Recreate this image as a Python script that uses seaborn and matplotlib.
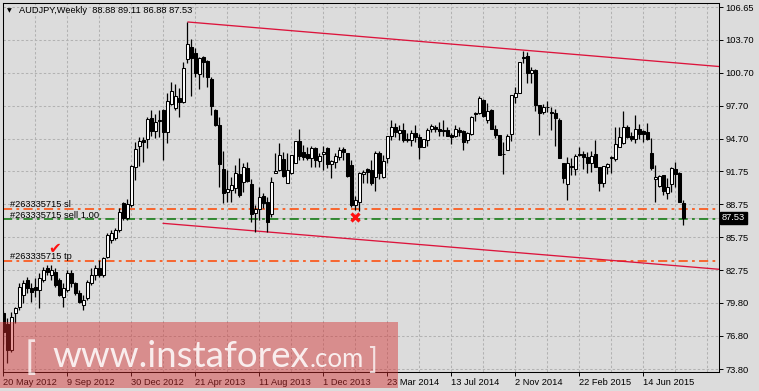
import numpy as np
import pandas as pd
import matplotlib
matplotlib.use("Agg")
import matplotlib.pyplot as plt
import matplotlib.transforms as mtransforms
from matplotlib.patches import Rectangle
import seaborn as sns

# ---------------- data (weekly AUDJPY candles) ----------------
opens = [
    78.9, 77.9, 75.5, 78.85, 79.45, 80.52, 81.88, 81.12, 81.27, 80.97,
    81.88, 82.94, 82.33, 82.63, 81.88, 80.36, 80.97, 82.48, 81.57, 80.67,
    79.61, 80.21, 81.57, 82.33, 82.94, 82.33, 83.99, 85.5, 85.66, 86.41,
    88.83, 87.5, 88.68, 92.16, 94.07, 94.58, 94.67, 96.55, 95.4, 96.3,
    97.3, 95.34, 97.82, 97.45, 98.42, 98.06, 101.9, 102.99, 102.45, 100.54,
    102.11, 101.75, 100.09, 97.3, 95.94, 91.95, 89.89, 90.04, 90.26, 91.5,
    90.8, 92.07, 90.59, 87.99, 88.29, 89.5, 88.93, 87.84, 91.56, 91.86,
    92.83, 90.71, 91.56, 92.52, 94.49, 93.46, 93.31, 92.98, 93.82, 92.65,
    93.34, 93.82, 92.4, 92.62, 93.01, 93.76, 93.43, 92.31, 88.68, 88.99,
    91.47, 91.92, 91.86, 91.25, 93.4, 91.25, 92.91, 94.94, 95.73, 95.24,
    95.49, 94.7, 94.58, 95.24, 94.82, 93.97, 94.58, 95.55, 95.73, 95.58,
    95.49, 95.49, 95.0, 94.94, 95.49, 95.39, 94.58, 95.12, 97.06, 97.0,
    98.21, 96.39, 97.3, 95.58, 95.03, 93.31, 93.67, 95.09, 98.45, 98.87,
    102.14, 102.2, 100.69, 100.93, 97.75, 97.15, 97.6, 97.15, 97.06, 96.39,
    92.46, 90.56, 92.1, 91.92, 93.31, 93.31, 93.07, 92.46, 93.31, 92.1,
    90.65, 92.1, 92.91, 92.82, 93.97, 94.28, 95.79, 94.94, 94.64, 95.55,
    95.4, 95.34, 93.37, 91.01, 90.41, 91.4, 89.8, 90.59, 91.92, 91.61,
    88.88,
]
highs = [
    79.1, 78.4, 79.0, 79.45, 81.57, 81.88, 82.18, 81.57, 82.03, 82.48,
    83.09, 83.24, 83.24, 82.94, 82.03, 81.57, 82.78, 82.78, 81.73, 80.97,
    80.52, 81.88, 82.94, 83.24, 83.69, 83.99, 86.11, 86.41, 86.57, 88.38,
    88.98, 89.2, 92.3, 94.43, 94.88, 94.88, 96.7, 97.3, 96.91, 97.3,
    97.4, 98.82, 99.87, 99.63, 99.27, 101.69, 105.26, 103.74, 102.9, 102.14,
    102.2, 101.84, 100.33, 97.36, 96.7, 93.6, 91.86, 91.25, 92.31, 92.92,
    92.52, 92.61, 91.01, 88.68, 90.29, 89.74, 89.44, 91.25, 93.43, 94.28,
    93.52, 93.37, 93.22, 94.49, 95.58, 94.13, 93.98, 94.04, 93.98, 93.37,
    94.0, 93.98, 92.77, 93.37, 93.98, 93.98, 93.43, 92.77, 89.5, 91.71,
    91.86, 92.01, 92.77, 93.6, 93.6, 93.22, 94.94, 96.39, 96.09, 95.94,
    96.09, 95.18, 95.49, 95.94, 95.12, 94.7, 95.64, 96.03, 95.94, 96.24,
    96.39, 95.79, 95.18, 95.94, 95.79, 95.49, 95.33, 96.76, 97.15, 98.57,
    98.27, 97.91, 97.36, 95.94, 95.03, 94.43, 95.12, 98.66, 99.36, 101.69,
    102.68, 102.59, 101.17, 100.99, 97.75, 97.85, 98.15, 97.6, 97.36, 96.54,
    92.52, 93.07, 92.91, 93.31, 93.91, 93.61, 93.52, 93.61, 94.58, 92.1,
    92.22, 92.46, 93.13, 95.79, 95.79, 97.24, 95.94, 95.3, 96.85, 96.03,
    95.49, 96.09, 94.73, 92.31, 91.4, 91.4, 91.1, 92.16, 92.61, 91.7,
    89.11,
]
lows = [
    76.1, 74.3, 75.3, 77.95, 79.15, 79.76, 80.67, 79.91, 80.36, 79.3,
    81.73, 82.33, 81.88, 81.27, 80.45, 79.46, 80.82, 81.27, 80.52, 79.76,
    79.15, 80.06, 81.42, 81.88, 82.18, 82.18, 83.84, 85.2, 85.5, 86.26,
    87.32, 87.35, 88.5, 90.95, 92.25, 92.61, 93.88, 94.97, 94.79, 94.88,
    92.77, 94.28, 97.75, 97.3, 96.7, 97.9, 101.54, 98.6, 100.33, 99.21,
    100.33, 99.42, 96.85, 95.85, 90.35, 88.83, 88.99, 88.99, 89.74, 89.44,
    89.89, 90.8, 87.17, 86.26, 87.32, 88.38, 86.26, 87.62, 91.56, 91.8,
    91.25, 90.65, 91.5, 92.46, 92.77, 92.77, 92.77, 92.16, 92.16, 92.16,
    91.9, 92.01, 91.1, 92.01, 92.77, 92.77, 91.25, 88.53, 88.2, 88.1,
    90.65, 90.65, 90.5, 89.98, 91.0, 91.1, 92.46, 94.58, 94.88, 94.58,
    94.43, 94.43, 94.03, 94.43, 92.82, 93.97, 94.03, 95.33, 95.33, 94.94,
    94.94, 94.94, 94.25, 94.88, 94.94, 93.67, 94.28, 95.03, 96.33, 96.94,
    96.7, 96.09, 95.58, 94.73, 93.22, 91.49, 93.67, 94.52, 97.91, 98.81,
    101.54, 99.78, 99.78, 97.24, 95.03, 96.94, 97.15, 95.49, 94.03, 92.91,
    90.71, 89.13, 91.4, 91.4, 93.13, 91.92, 91.61, 91.7, 92.1, 89.98,
    90.34, 91.49, 91.55, 92.7, 93.97, 94.22, 94.73, 94.52, 94.28, 94.64,
    94.43, 94.58, 91.86, 88.98, 90.35, 89.59, 89.19, 89.89, 90.29, 88.98,
    86.88,
]
closes = [
    77.2, 75.5, 78.55, 79.3, 81.27, 81.57, 81.12, 80.82, 80.97, 82.03,
    82.78, 82.63, 82.78, 81.42, 80.52, 81.12, 82.48, 81.57, 80.67, 79.91,
    80.06, 81.73, 82.33, 82.94, 82.33, 83.84, 85.96, 86.11, 86.41, 88.08,
    87.47, 88.75, 92.25, 93.76, 94.49, 94.37, 96.49, 95.4, 96.18, 96.35,
    95.34, 98.12, 99.03, 98.6, 98.0, 101.14, 103.26, 102.05, 100.63, 101.99,
    101.69, 100.27, 97.67, 95.94, 92.4, 89.8, 90.13, 90.5, 91.56, 89.59,
    92.16, 90.89, 87.87, 88.29, 89.38, 88.9, 87.17, 90.8, 91.77, 93.22,
    91.34, 91.86, 93.22, 94.49, 93.13, 93.01, 92.92, 93.82, 92.77, 93.16,
    93.49, 92.4, 92.68, 93.13, 93.67, 93.52, 91.31, 88.68, 89.14, 91.56,
    91.71, 91.71, 90.65, 93.43, 91.6, 92.7, 94.94, 95.79, 95.33, 95.49,
    94.58, 94.58, 95.18, 94.88, 93.97, 94.64, 95.49, 95.85, 95.58, 95.43,
    95.43, 94.94, 94.88, 95.55, 95.3, 94.43, 95.18, 96.64, 96.94, 98.36,
    96.76, 97.21, 95.58, 95.03, 93.22, 93.28, 94.94, 98.66, 98.81, 101.63,
    101.99, 100.69, 100.93, 97.75, 97.06, 97.54, 97.54, 97.0, 96.54, 92.91,
    91.1, 92.52, 92.22, 93.13, 93.25, 93.01, 92.52, 93.13, 92.16, 90.65,
    92.22, 92.4, 93.07, 94.22, 94.82, 95.73, 94.88, 94.67, 95.55, 95.12,
    95.12, 94.64, 92.01, 91.19, 91.31, 89.98, 90.29, 92.01, 91.49, 88.98,
    87.53,
]

date_labels = ["20 May 2012", "9 Sep 2012", "30 Dec 2012", "21 Apr 2013",
               "11 Aug 2013", "1 Dec 2013", "23 Mar 2014", "13 Jul 2014",
               "2 Nov 2014", "22 Feb 2015", "14 Jun 2015"]
date_bars = [0, 16, 32, 48, 64, 80, 96, 112, 128, 144, 160]

price_ticks = [106.65, 103.70, 100.70, 97.70, 94.70, 91.75, 88.75, 85.75,
               82.75, 79.80, 76.80, 73.80]
price_tick_labels = ["106.65", "103.70", "100.70", "97.70", "94.70", "91.75",
                     "88.75", "85.75", "82.75", "79.80", "76.80", "73.80"]

upper_trend_bar = [46.1, 178.9]
upper_trend_price = [105.29, 101.25]
lower_trend_bar = [39.9, 178.9]
lower_trend_price = [87.02, 82.85]

sl_level = 88.35
sell_level = 87.39
tp_level = 83.60
last_price = 87.53
closed_mark_bar = 88
closed_mark_price = 87.57

title_text = "AUDJPY,Weekly  88.88 89.11 86.88 87.53"
order_id = "#263335715"

# ---------------- styling ----------------
W, H = 759, 391
BG = "#DCDCDC"
GRID = "#B2B2B2"
FS = 6.7

sns.set_theme(style="white", rc={"axes.facecolor": BG, "figure.facecolor": BG})
plt.rcParams["font.family"] = ["Liberation Sans", "DejaVu Sans"]


def fx(px):
    return px / W


def fy(py):
    return 1 - py / H


fig = plt.figure(figsize=(W / 100, H / 100), dpi=100, facecolor=BG)
ax = fig.add_axes([fx(3), fy(372), (719 - 3) / W, (372 - 3) / H])
ax.set_facecolor(BG)

df = pd.DataFrame({"bar": np.arange(len(opens)), "open": opens, "high": highs,
                   "low": lows, "close": closes})
bull = df["close"] >= df["open"]

ax.set_xlim(-0.1, 178.9)
ax.set_ylim(73.528, 107.013)

# grid
for p in price_ticks:
    ax.axhline(p, color=GRID, lw=0.75, ls=(0, (2.3, 2.0)), zorder=1)
for g in range(0, 179, 8):
    ax.axvline(g, color=GRID, lw=0.75, ls=(0, (2.3, 2.0)), zorder=1)

# price lines
ax.axhline(last_price, color="#BDBDBD", lw=0.8, zorder=1.5)
ax.axhline(sl_level, color="#FF4500", lw=1.1, ls=(0, (6, 2.8, 1.8, 2.8)), zorder=2)
ax.axhline(tp_level, color="#FF4500", lw=1.1, ls=(0, (6, 2.8, 1.8, 2.8)), zorder=2)
ax.axhline(sell_level, color="#0A780A", lw=1.1, ls=(0, (6, 2.8, 1.8, 2.8)), zorder=2)

# trend lines (seaborn)
trend_up = pd.DataFrame({"bar": upper_trend_bar, "price": upper_trend_price})
trend_lo = pd.DataFrame({"bar": lower_trend_bar, "price": lower_trend_price})
sns.lineplot(data=trend_up, x="bar", y="price", color="#DC143C", lw=0.95,
             estimator=None, ax=ax, zorder=2.5)
sns.lineplot(data=trend_lo, x="bar", y="price", color="#DC143C", lw=0.95,
             estimator=None, ax=ax, zorder=2.5)

# candles
ax.vlines(df["bar"], df["low"], df["high"], color="black", lw=0.9, zorder=3)
body_bottom = np.minimum(df["open"], df["close"])
body_h = np.maximum(np.abs(df["close"] - df["open"]), 0.07)
ax.bar(df["bar"], body_h, bottom=body_bottom, width=0.58,
       color=np.where(bull, "white", "black"), edgecolor="black",
       linewidth=0.75, zorder=4)

# markers
ax.plot([closed_mark_bar], [closed_mark_price], marker="x", ms=6, mew=2.3,
        color="#FF1010", zorder=6, ls="none")

# order labels
blend = mtransforms.blended_transform_factory(ax.transAxes, ax.transData)
lx = (10 - 3) / (719 - 3)
for lvl, txt in [(sl_level, f"{order_id} sl"), (sell_level, f"{order_id} sell 1.00"),
                 (tp_level, f"{order_id} tp")]:
    ax.annotate(txt, xy=(lx, lvl), xycoords=blend, xytext=(0, 1.2),
                textcoords="offset points", fontsize=FS, color="black",
                va="baseline", ha="left", zorder=7)

fig.text(fx(55), fy(249), "\u2714", fontsize=11, color="#FF1010",
         ha="center", va="center", family=["DejaVu Sans"], zorder=8)

# axes / ticks
for s in ax.spines.values():
    s.set_color("black")
    s.set_linewidth(0.75)
ax.yaxis.tick_right()
ax.set_yticks(price_ticks)
ax.set_yticklabels(price_tick_labels)
ax.set_xticks(date_bars)
ax.set_xticklabels(date_labels, ha="left")
ax.tick_params(axis="y", right=True, left=False, labelright=True, labelleft=False,
               direction="out", length=3, width=0.7, pad=1.5, labelsize=FS,
               colors="black")
ax.tick_params(axis="x", bottom=True, direction="out", length=3, width=0.7,
               pad=1.5, labelsize=FS, colors="black")
ax.set_xlabel("")
ax.set_ylabel("")
ax.grid(False)

# last price box
ax.text(1.004, last_price, f"{last_price:.2f}", transform=blend, fontsize=FS,
        color="white", va="center", ha="left", zorder=9, clip_on=False,
        bbox=dict(facecolor="black", edgecolor="black", pad=1.2))

# title
fig.text(fx(9.5), fy(10.5), "\u25BC", fontsize=4.5, color="black", ha="center",
         va="center", family=["DejaVu Sans"])
fig.text(fx(19), fy(10.5), title_text, fontsize=FS, color="black", ha="left",
         va="center")

# watermark
fig.add_artist(Rectangle((0, fy(388)), fx(398), (388 - 322) / H,
                         transform=fig.transFigure, facecolor=(213 / 255, 46 / 255, 46 / 255),
                         alpha=0.45, edgecolor="none", zorder=20))
wm = dict(color="white", va="baseline", ha="left", zorder=21)
fig.text(fx(25), fy(369), "[", fontsize=27, family=["Lato", "DejaVu Sans"],
         alpha=0.75, **wm)
fig.text(fx(52), fy(367), "www.instaforex", fontsize=26.5,
         family=["Lato", "DejaVu Sans"], alpha=0.85, **wm)
fig.text(fx(310), fy(367), ".com", fontsize=18.5,
         family=["Lato", "DejaVu Sans"], alpha=0.85, **wm)
fig.text(fx(368), fy(369), "]", fontsize=21, family=["Lato", "DejaVu Sans"],
         alpha=0.75, **wm)

fig.savefig("out.png", dpi=100, facecolor=BG)
